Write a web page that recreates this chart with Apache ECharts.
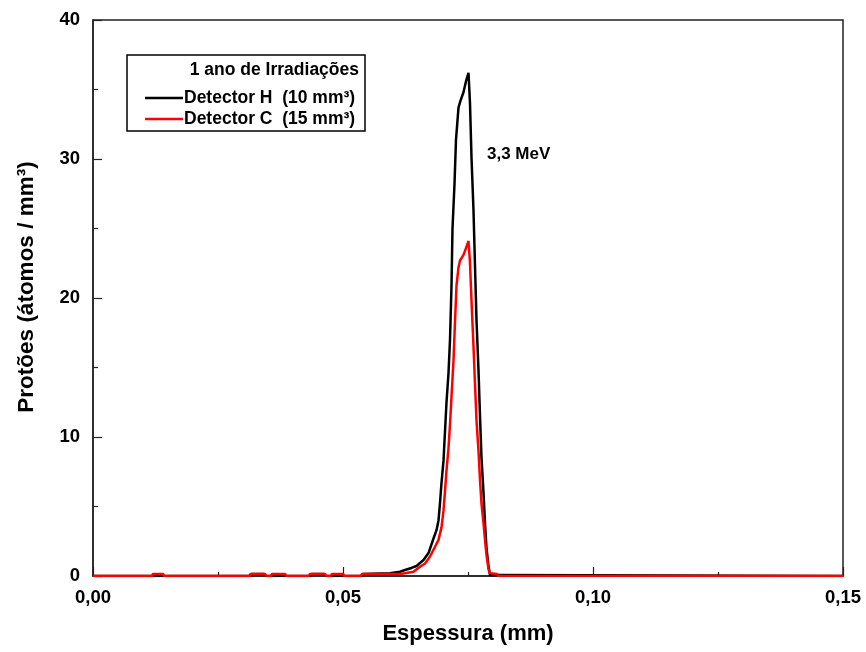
<!DOCTYPE html>
<html>
<head>
<meta charset="utf-8">
<script src="https://cdn.jsdelivr.net/npm/echarts@6/dist/echarts.min.js"></script>
<style>
html,body{margin:0;padding:0;background:#fff;}
#c{width:866px;height:652px;}
</style>
</head>
<body>
<div id="c"></div>
<script>
var seriesNames = ['Detector H  (10 mm\u00B3)', 'Detector C  (15 mm\u00B3)'];
var legendTitle = '1 ano de Irradia\u00E7\u00F5es';
var annotation = '3,3 MeV';

var hX = [0, 0.0312, 0.0316, 0.0342, 0.0346, 0.0434, 0.0438, 0.0462, 0.0466, 0.0536, 0.054, 0.0594,
  0.0614, 0.0624, 0.0637, 0.0647, 0.0661, 0.0671, 0.0681, 0.0687, 0.0691, 0.0694, 0.0697, 0.0701,
  0.0704, 0.0707, 0.0711, 0.0714, 0.0717, 0.0719, 0.0723, 0.0726, 0.0731, 0.0735, 0.0741, 0.0746,
  0.0751, 0.0754, 0.0757, 0.0761, 0.0764, 0.0767, 0.0771, 0.0774, 0.0777, 0.0781, 0.0784, 0.0787,
  0.0791, 0.0794, 0.0808, 0.081, 0.15];
var hY = [0, 0, 0.15, 0.15, 0, 0, 0.15, 0.15, 0, 0, 0.15, 0.2,
  0.31, 0.43, 0.58, 0.72, 1.15, 1.65, 2.7, 3.3, 4.0, 5.25, 6.7, 8.3,
  10.4, 12.5, 14.6, 17.0, 20.9, 25.0, 28.2, 31.4, 33.7, 34.2, 34.8, 35.6,
  36.2, 34.0, 30.1, 26.3, 22.3, 18.4, 14.8, 11.5, 8.5, 6.0, 3.8, 2.0,
  0.7, 0.07, 0.07, 0, 0];

var cX = [0, 0.0118, 0.012, 0.014, 0.0142, 0.0314, 0.0316, 0.0344, 0.0346, 0.0356, 0.0358, 0.0384,
  0.0386, 0.0432, 0.0434, 0.0464, 0.0466, 0.0476, 0.0478, 0.05, 0.0502, 0.0536, 0.0538, 0.0614,
  0.0624, 0.0641, 0.0654, 0.0664, 0.0674, 0.0684, 0.0691, 0.0697, 0.0701, 0.0704, 0.0707, 0.0711,
  0.0714, 0.0717, 0.0721, 0.0724, 0.0727, 0.0731, 0.0734, 0.0741, 0.0747, 0.0751, 0.0754, 0.0757,
  0.0761, 0.0764, 0.0767, 0.0771, 0.0774, 0.0777, 0.0781, 0.0784, 0.0787, 0.0791, 0.0794, 0.0808,
  0.081, 0.15];
var cY = [0, 0, 0.15, 0.15, 0, 0, 0.15, 0.15, 0, 0, 0.15, 0.15,
  0, 0, 0.15, 0.15, 0, 0, 0.15, 0.15, 0, 0, 0.15, 0.15,
  0.2, 0.3, 0.67, 0.9, 1.4, 2.1, 2.6, 3.5, 4.7, 6.1, 7.6, 9.2,
  10.9, 12.9, 15.5, 18.3, 20.9, 22.2, 22.7, 23.1, 23.7, 24.1, 22.5, 19.8,
  16.5, 13.8, 11.2, 9.0, 6.9, 5.2, 3.8, 2.6, 1.5, 0.5, 0.2, 0.15,
  0, 0];

function pairs(xs, ys) { return xs.map(function (x, i) { return [x, ys[i]]; }); }

var chart = echarts.init(document.getElementById('c'));
var FF = 'Arial, "Liberation Sans", sans-serif';
var bold = { fontFamily: FF, fontWeight: 'bold', color: '#000' };

chart.setOption({
  animation: false,
  backgroundColor: '#fff',
  grid: { left: 93, right: 23, top: 20, bottom: 76, show: true, borderColor: '#222', borderWidth: 1.5 },
  xAxis: {
    type: 'value', min: 0, max: 0.15, interval: 0.05,
    name: 'Espessura (mm)', nameLocation: 'middle', nameGap: 47,
    nameTextStyle: Object.assign({ fontSize: 22 }, bold),
    axisLine: { lineStyle: { color: '#222', width: 1.5 } },
    axisTick: { inside: true, length: 9, lineStyle: { color: '#222', width: 1.2 } },
    minorTick: { show: true, splitNumber: 2, length: 4, lineStyle: { color: '#222', width: 1.2 } },
    splitLine: { show: false },
    axisLabel: Object.assign({ fontSize: 18.5, margin: 12, formatter: function (v) { return v.toFixed(2).replace('.', ','); } }, bold)
  },
  yAxis: {
    type: 'value', min: 0, max: 40, interval: 10,
    name: 'Prot\u00F5es (\u00E1tomos / mm\u00B3)', nameLocation: 'middle', nameGap: 55,
    nameTextStyle: Object.assign({ fontSize: 22.5, padding: [0, 0, 0, 22] }, bold),
    axisLine: { lineStyle: { color: '#222', width: 1.5 } },
    axisTick: { inside: true, length: 9, lineStyle: { color: '#222', width: 1.2 } },
    minorTick: { show: true, splitNumber: 2, length: 5, lineStyle: { color: '#222', width: 1.2 } },
    splitLine: { show: false },
    axisLabel: Object.assign({ fontSize: 18.5, margin: 13 }, bold)
  },
  legend: {
    orient: 'vertical', left: 140, top: 84, itemGap: 3,
    icon: 'rect', itemWidth: 38, itemHeight: 2.5,
    textStyle: Object.assign({ fontSize: 17.5, padding: [0, 0, 0, -4] }, bold),
    data: seriesNames
  },
  graphic: [
    { type: 'rect', shape: { x: 127, y: 55, width: 238, height: 76 },
      style: { fill: 'none', stroke: '#000', lineWidth: 1.5 }, z: 10 },
    { type: 'text', x: 359, y: 61,
      style: { text: legendTitle, align: 'right', font: 'bold 17.5px ' + FF, fill: '#000' }, z: 10 },
    { type: 'text', x: 487, y: 146,
      style: { text: annotation, font: 'bold 17px ' + FF, fill: '#000' }, z: 10 }
  ],
  series: [
    { name: seriesNames[0], type: 'line', symbol: 'none', color: '#000',
      lineStyle: { color: '#000', width: 2.5 }, data: pairs(hX, hY) },
    { name: seriesNames[1], type: 'line', symbol: 'none', color: '#f00',
      lineStyle: { color: '#f00', width: 2.5 }, data: pairs(cX, cY) }
  ]
});
</script>
</body>
</html>
